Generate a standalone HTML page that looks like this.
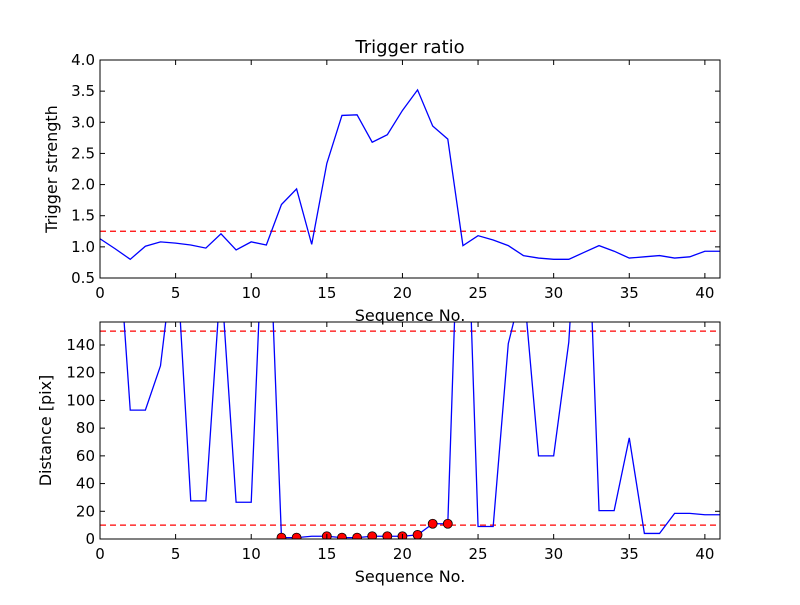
<!DOCTYPE html>
<html><head><meta charset="utf-8"><style>
html,body{margin:0;padding:0;background:#fff;}
svg text{font-family:"DejaVu Sans","Liberation Sans",sans-serif;fill:#000;}
</style></head><body>
<svg id="fig" width="800" height="600" xmlns="http://www.w3.org/2000/svg"></svg>
<script>
const xs = Array.from({length:42},(_, i)=>i);
const strength = [1.13,0.97,0.80,1.01,1.08,1.06,1.03,0.98,1.21,0.95,1.08,1.03,1.68,1.93,1.04,2.34,3.11,3.12,2.68,2.80,3.19,3.52,2.94,2.73,1.02,1.18,1.11,1.02,0.86,0.82,0.80,0.80,0.91,1.02,0.93,0.82,0.84,0.86,0.82,0.84,0.93,0.93];
const strengthThreshold = 1.25;
const distance = [250,250,93,93,125,216,27.5,27.5,190,26.5,26.5,286,1,1,2,2,1,1,2,2,2,3,11,11,340,9,9,141,185,60,60,142,320,20.5,20.5,73,4,4,18.5,18.5,17.5,17.5];
const distThresholds = [150,10];
const dotIdx = [12,13,15,16,17,18,19,20,21,22,23];
const xTicks = [0,5,10,15,20,25,30,35,40];
const yTicksTop = [0.5,1.0,1.5,2.0,2.5,3.0,3.5,4.0];
const yTicksBot = [0,20,40,60,80,100,120,140];

const NS="http://www.w3.org/2000/svg";
const svg=document.getElementById('fig');
function mk(tag,attrs,parent){const e=document.createElementNS(NS,tag);for(const k in attrs)e.setAttribute(k,attrs[k]);(parent||svg).appendChild(e);return e;}

function panel(cfg){
  const {L,R,T,B,xmin,xmax,ymin,ymax,name}=cfg;
  const g=mk('g',{});
  
  
  const sx=v=>L+(v-xmin)/(xmax-xmin)*(R-L);
  const sy=v=>B-(v-ymin)/(ymax-ymin)*(B-T);
  const cp='clip-'+name;
  const cpEl=mk('clipPath',{id:cp},g); mk('rect',{x:L,y:T,width:R-L,height:B-T},cpEl);
  const pg=mk('g',{'clip-path':'url(#'+cp+')'},g);
  cfg.thresholds.forEach(t=>{
    const l=mk('line',{x1:L,x2:R,y1:sy(t),y2:sy(t),stroke:'#ff0000','stroke-width':1.3,'stroke-dasharray':'6,4'},pg);
    
    
  });
  const pts=cfg.ys.map((v,i)=>sx(xs[i]).toFixed(2)+','+sy(v).toFixed(2)).join(' ');
  const pl=mk('polyline',{points:pts,fill:'none',stroke:'#0000ff','stroke-width':1.3},pg);
  
  
  (cfg.dots||[]).forEach(i=>{
    const c=mk('circle',{cx:sx(xs[i]),cy:sy(cfg.ys[i]),r:4.5,fill:'#ff0000',stroke:'#000','stroke-width':0.8},pg);
    
    
  });
  const fr=mk('rect',{x:L,y:T,width:R-L,height:B-T,fill:'none',stroke:'#000','stroke-width':1},g);
  
  
  xTicks.forEach(t=>{const x=sx(t);
    mk('line',{x1:x,x2:x,y1:B,y2:B-5,stroke:'#000'},g);
    mk('line',{x1:x,x2:x,y1:T,y2:T+5,stroke:'#000'},g);
    const tx=mk('text',{x:x,y:B+20,'text-anchor':'middle','font-size':15},g);tx.textContent=t;
    
    
  });
  cfg.yTicks.forEach(t=>{const y=sy(t);
    mk('line',{x1:L,x2:L+5,y1:y,y2:y,stroke:'#000'},g);
    mk('line',{x1:R,x2:R-5,y1:y,y2:y,stroke:'#000'},g);
    const ty=mk('text',{x:L-5,y:y+5,'text-anchor':'end','font-size':15},g);ty.textContent=cfg.fmt(t);
    
    
  });
  const xl=mk('text',{x:(L+R)/2,y:B+43,'text-anchor':'middle','font-size':16},g);xl.textContent='Sequence No.';
  
  
  const yl=mk('text',{x:0,y:0,'text-anchor':'middle','font-size':16,transform:`translate(${cfg.ylx},${(T+B)/2}) rotate(-90)`},g);yl.textContent=cfg.ylabel;
  
  
}
panel({name:'trigger-panel',L:100,R:720,T:60,B:278,xmin:0,xmax:41,ymin:0.5,ymax:4.0,ys:strength,thresholds:[strengthThreshold],yTicks:yTicksTop,fmt:t=>t.toFixed(1),ylabel:'Trigger strength',ylx:57});
panel({name:'distance-panel',L:100,R:720,T:322,B:539,xmin:0,xmax:41,ymin:0,ymax:156.6,ys:distance,thresholds:distThresholds,dots:dotIdx,yTicks:yTicksBot,fmt:t=>String(t),ylabel:'Distance [pix]',ylx:51});
const title=mk('text',{x:410,y:53,'text-anchor':'middle','font-size':18});title.textContent='Trigger ratio';


</script>
</body></html>
